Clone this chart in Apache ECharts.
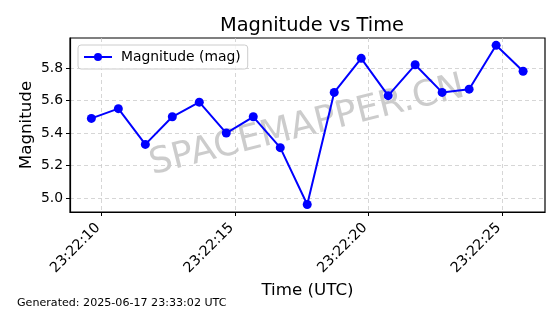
<!DOCTYPE html>
<html><head><meta charset="utf-8">
<script src="https://cdn.jsdelivr.net/npm/echarts@6/dist/echarts.min.js"></script>
<style>html,body{margin:0;padding:0;background:#fff}#c{width:560px;height:314px}</style>
</head><body><div id="c"></div>
<script>
// seconds past 23:22:00
const timesSec = [9.62, 10.63, 11.64, 12.65, 13.66, 14.67, 15.68, 16.69, 17.70, 18.71, 19.72, 20.73, 21.74, 22.75, 23.76, 24.77, 25.78];
const magnitudes = [5.49, 5.55, 5.33, 5.50, 5.59, 5.40, 5.50, 5.31, 4.96, 5.65, 5.86, 5.63, 5.82, 5.65, 5.67, 5.94, 5.78];
const xTicks = [10, 15, 20, 25];
const yTicks = [5.0, 5.2, 5.4, 5.6, 5.8];
const titleText = 'Magnitude vs Time';
const seriesName = 'Magnitude (mag)';
const footer = 'Generated: 2025-06-17 23:33:02 UTC';

const FONT = 'DejaVu Sans';
const chart = echarts.init(document.getElementById('c'), null, {renderer: 'canvas'});
const fmtTime = v => '23:22:' + String(Math.round(v)).padStart(2, '0');
const gridLine = {show: true, lineStyle: {color: '#cccccc', type: [4, 3], width: 0.8}};
chart.setOption({
  animation: false,
  textStyle: {fontFamily: FONT},
  title: {text: titleText, left: 307, top: 11, textAlign: 'center',
    textStyle: {fontFamily: FONT, fontSize: 19.4, fontWeight: 'normal', color: '#000'}},
  grid: {left: 70, right: 15, top: 38, bottom: 102, show: true, borderColor: '#000', borderWidth: 1.2, containLabel: false},
  legend: {left: 78, top: 45, orient: 'vertical', itemWidth: 28, itemHeight: 10,
    padding: [5, 7, 5, 5], itemGap: 4,
    borderColor: '#cccccc', borderWidth: 1, borderRadius: 3, backgroundColor: 'rgba(255,255,255,0.8)',
    textStyle: {fontFamily: FONT, fontSize: 13.9, color: '#000', padding: [0, 0, 0, 4]},
    data: [seriesName]},
  xAxis: {type: 'value', min: 8.82, max: 26.6,
    name: 'Time (UTC)', nameLocation: 'middle', nameGap: 70, nameMoveOverlap: false,
    nameTextStyle: {fontFamily: FONT, fontSize: 16.7, color: '#000'},
    axisLine: {show: true, lineStyle: {color: '#000', width: 1.2}},
    axisTick: {show: true, length: 4, customValues: xTicks, lineStyle: {color: '#000'}},
    axisLabel: {customValues: xTicks, rotate: 45, formatter: fmtTime, margin: 10, padding: [0, 5, 0, 0],
      fontFamily: FONT, fontSize: 14.2, color: '#000'},
    splitLine: gridLine},
  yAxis: {type: 'value', min: 4.914, max: 5.985,
    name: 'Magnitude', nameLocation: 'middle', nameGap: 35, nameRotate: 90, nameMoveOverlap: false,
    nameTextStyle: {fontFamily: FONT, fontSize: 16.7, color: '#000'},
    axisLine: {show: true, lineStyle: {color: '#000', width: 1.2}},
    axisTick: {show: true, length: 4, customValues: yTicks, lineStyle: {color: '#000'}},
    axisLabel: {customValues: yTicks, formatter: v => v.toFixed(1), margin: 7,
      fontFamily: FONT, fontSize: 13.9, color: '#000'},
    splitLine: gridLine},
  graphic: [
    {type: 'text', left: 17, top: 298, style: {text: footer, font: '11.1px "DejaVu Sans"', fill: '#000'}},
    {type: 'text', x: 307, y: 126, rotation: 14 * Math.PI / 180, z: 0,
      style: {text: 'SPACEMAPPER.CN', font: '36px "DejaVu Sans"', fill: 'rgba(128,128,128,0.4)', align: 'center', verticalAlign: 'middle'}}
  ],
  series: [{name: seriesName, type: 'line', data: timesSec.map((t, i) => [t, magnitudes[i]]),
    symbol: 'circle', symbolSize: 9, showSymbol: true,
    itemStyle: {color: '#0000ff'}, lineStyle: {color: '#0000ff', width: 2}, z: 3}]
});
</script></body></html>
